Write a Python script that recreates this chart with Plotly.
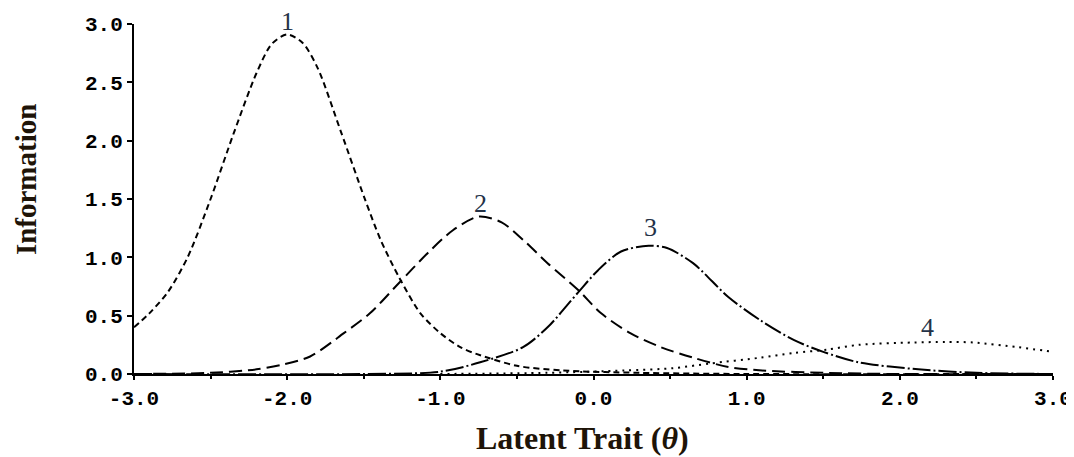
import plotly.graph_objects as go

# Item 1 (short dash)
x1 = [-3.0, -2.9, -2.78, -2.65, -2.5, -2.35, -2.2, -2.1, -2.0, -1.9, -1.8, -1.65,
      -1.49, -1.39, -1.27, -1.13, -1.0, -0.87, -0.76, -0.5, -0.2, 0.3, 1.0, 3.0]
y1 = [0.40, 0.52, 0.70, 1.00, 1.50, 2.06, 2.58, 2.83, 2.91, 2.84, 2.62, 2.08,
      1.49, 1.15, 0.83, 0.52, 0.35, 0.23, 0.17, 0.07, 0.03, 0.01, 0.0, 0.0]

# Item 2 (long dash)
x2 = [-3.0, -2.5, -2.2, -2.03, -1.85, -1.63, -1.46, -1.27, -1.08, -0.92, -0.75, -0.6,
      -0.46, -0.3, -0.1, 0.05, 0.24, 0.44, 0.65, 0.88, 1.1, 1.5, 2.0, 3.0]
y2 = [0.0, 0.01, 0.04, 0.08, 0.15, 0.35, 0.52, 0.78, 1.04, 1.23, 1.35, 1.30,
      1.15, 0.95, 0.72, 0.52, 0.35, 0.23, 0.14, 0.06, 0.03, 0.01, 0.0, 0.0]

# Item 3 (dash-dot)
x3 = [-3.0, -1.5, -1.0, -0.74, -0.46, -0.3, -0.1, 0.03, 0.18, 0.36, 0.48, 0.65,
      0.88, 1.09, 1.31, 1.5, 1.73, 2.12, 2.5, 3.0]
y3 = [0.0, 0.0, 0.02, 0.10, 0.23, 0.40, 0.70, 0.89, 1.05, 1.10, 1.08, 0.95,
      0.66, 0.46, 0.29, 0.19, 0.10, 0.04, 0.01, 0.0]

# Item 4 (dotted)
x4 = [-1.0, -0.3, 0.2, 0.52, 0.76, 1.09, 1.31, 1.53, 1.73, 2.09, 2.3, 2.48, 2.77, 3.0]
y4 = [0.0, 0.01, 0.03, 0.05, 0.09, 0.14, 0.18, 0.21, 0.25, 0.27, 0.275, 0.27, 0.23, 0.19]

item_labels = ["1", "2", "3", "4"]
label_x = [-2.0, -0.74, 0.37, 2.18]
label_y = [3.0, 1.465, 1.26, 0.40]
label_shift = [3, 0, 0, 0]

x_tickvals = [-3, -2, -1, 0, 1, 2, 3]
x_ticktext = ["-3.0", "-2.0", "-1.0", "0.0", "1.0", "2.0", "3.0"]
y_tickvals = [0, 0.5, 1.0, 1.5, 2.0, 2.5, 3.0]
y_ticktext = ["0.0", "0.5", "1.0", "1.5", "2.0", "2.5", "3.0"]

x_title = "<b>Latent Trait (<i>θ</i>)</b>"
y_title = "<b>Information</b>"

series = [
    (x1, y1, "6px,4px"),
    (x2, y2, "13px,6px"),
    (x3, y3, "18px,3px,2px,3px"),
    (x4, y4, "2px,5px"),
]

fig = go.Figure()
for xs, ys, dash in series:
    fig.add_trace(go.Scatter(
        x=xs, y=ys, mode="lines",
        line=dict(color="black", width=2, dash=dash, shape="spline", smoothing=0.8),
        showlegend=False, hoverinfo="skip", cliponaxis=True,
    ))

for t, lx, ly, sh in zip(item_labels, label_x, label_y, label_shift):
    fig.add_annotation(x=lx, y=ly, xref="x", yref="y", text=t, showarrow=False,
                       xanchor="center", yanchor="middle", yshift=sh,
                       font=dict(family="Liberation Serif", size=26, color="#243247"))

fig.add_annotation(x=0.4875, y=-0.183, xref="paper", yref="paper", text=x_title,
                   showarrow=False, xanchor="center", yanchor="middle",
                   font=dict(family="Liberation Serif", size=32, color="#1e1408"))
fig.add_annotation(x=-0.1175, y=0.554, xref="paper", yref="paper", text=y_title,
                   showarrow=False, xanchor="center", yanchor="middle", textangle=-90,
                   font=dict(family="Liberation Serif", size=29, color="#1e1408"))

tick_font = dict(family="Liberation Mono", size=21, color="black", weight="bold")

# The page body adds an 8px offset, so the figure is sized to fit the window.
fig.update_layout(
    width=1066, height=449,
    margin=dict(l=126, r=21, t=16, b=83, autoexpand=False),
    paper_bgcolor="white", plot_bgcolor="white",
    xaxis=dict(
        range=[-3, 3], tickvals=x_tickvals, ticktext=x_ticktext, automargin=False,
        showgrid=False, zeroline=False, showline=True, linecolor="black", linewidth=2,
        ticks="outside", ticklen=4, tickwidth=2, tickcolor="black",
        tickfont=tick_font, ticklabelstandoff=0,
        minor=dict(dtick=0.5, tick0=0, ticks="outside", ticklen=3, tickwidth=2, tickcolor="black"),
        fixedrange=True,
    ),
    yaxis=dict(
        range=[0, 3], tickvals=y_tickvals, ticktext=y_ticktext, automargin=False,
        showgrid=False, zeroline=False, showline=True, linecolor="black", linewidth=2,
        ticks="outside", ticklen=5, tickwidth=2, tickcolor="black",
        tickfont=tick_font, ticklabelstandoff=0,
        fixedrange=True,
    ),
)

fig.write_html("out.html")
